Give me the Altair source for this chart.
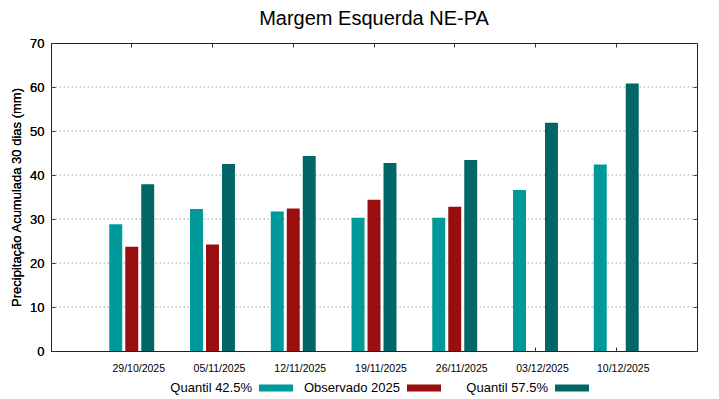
import altair as alt
import pandas as pd

dates = ["29/10/2025", "05/11/2025", "12/11/2025", "19/11/2025",
         "26/11/2025", "03/12/2025", "10/12/2025"]
q425 = [28.8, 32.3, 31.7, 30.3, 30.3, 36.6, 42.4]
obs = [23.7, 24.2, 32.4, 34.4, 32.8, None, None]
q575 = [37.9, 42.5, 44.3, 42.7, 43.4, 51.9, 60.8]
series = ["Quantil 42.5%", "Observado 2025", "Quantil 57.5%"]
colors = ["#009999", "#990f0f", "#006666"]
grid_values = [10, 20, 30, 40, 50, 60]
y_ticks = [0, 10, 20, 30, 40, 50, 60, 70]

FONT = "Liberation Sans"
TICK = "#333333"

rows = []
for name, vals in zip(series, [q425, obs, q575]):
    for d, v in zip(dates, vals):
        if v is not None:
            rows.append({"date": d, "series": name, "value": v})
df = pd.DataFrame(rows)

xscale = alt.Scale(domain=dates, paddingInner=0.406, paddingOuter=0.703)
yscale = alt.Scale(domain=[0, 70], nice=False)
color_scale = alt.Scale(domain=series, range=colors)

yaxis = alt.Axis(title="Precipitação Acumulada 30 dias (mm)", orient="left",
                 values=y_ticks, grid=False, domain=False,
                 ticks=True, tickSize=4, tickColor=TICK, offset=-4,
                 labelFontSize=13, labelFont=FONT, labelColor="black",
                 labelPadding=7,
                 titleFont=FONT, titleFontSize=13, titleFontWeight="normal",
                 titleColor="black", titlePadding=6)
xaxis = alt.Axis(title=None, orient="bottom", labelAngle=0, domain=False,
                 ticks=True, tickSize=4, tickColor=TICK, offset=-4,
                 labelFontSize=10.5, labelFont=FONT, labelColor="black",
                 labelPadding=12, labelOffset=7)

grid = alt.Chart(pd.DataFrame({"v": grid_values})).mark_rule(
    color="#a0a0a0", strokeDash=[1.5, 2.5], strokeWidth=1
).encode(y=alt.Y("v:Q", scale=yscale, axis=yaxis))

bars = alt.Chart(df).mark_bar().encode(
    x=alt.X("date:N", sort=dates, scale=xscale, axis=xaxis),
    xOffset=alt.XOffset("series:N",
                        scale=alt.Scale(domain=series, paddingInner=0.19, paddingOuter=0.095)),
    y=alt.Y("value:Q", scale=yscale, axis=yaxis),
    color=alt.Color("series:N", scale=color_scale, legend=None),
)

mirror = alt.Chart(df).mark_point(opacity=0).encode(
    x=alt.X("date:N", sort=dates, scale=xscale,
            axis=alt.Axis(title=None, orient="top", labels=False, domain=False,
                          ticks=True, tickSize=4, tickColor=TICK, offset=-4)),
    y=alt.Y("value:Q", scale=yscale,
            axis=alt.Axis(title=None, orient="right", values=y_ticks, labels=False,
                          domain=False, grid=False, ticks=True, tickSize=4,
                          tickColor=TICK, offset=-4)),
)

main = alt.layer(grid, bars, mirror).resolve_axis(
    x="independent", y="independent"
).properties(
    width=646, height=308,
    title=alt.TitleParams("Margem Esquerda NE-PA", font=FONT, fontSize=20,
                          fontWeight="normal", color="black", offset=8),
    view=alt.ViewBackground(stroke="#222222", strokeWidth=1),
)

leg_df = pd.DataFrame({"series": series})
leg_base = alt.Chart(leg_df).encode(
    x=alt.X("series:N", sort=series,
            scale=alt.Scale(type="point", domain=series, range=[208, 504], padding=0),
            axis=None),
    y=alt.value(7),
)
leg_text = leg_base.mark_text(align="right", baseline="middle", dx=-7,
                              fontSize=13, font=FONT, color="black").encode(text="series:N")
leg_sw = leg_base.mark_point(shape="M0,-0.2H2V0.2H0Z", size=1156, filled=True,
                             opacity=1, strokeWidth=0).encode(
    color=alt.Color("series:N", scale=color_scale, legend=None))
legend = alt.layer(leg_text, leg_sw).properties(
    width=646, height=14,
    view=alt.ViewBackground(strokeWidth=0),
)

chart = alt.vconcat(main, legend, spacing=7).resolve_scale(
    x="independent", y="independent"
).properties(
    padding={"left": 2, "top": 0, "right": 5, "bottom": 0}
).configure_view(strokeWidth=0)

chart.save("out.html", embed_options={"renderer": "svg", "actions": False})
